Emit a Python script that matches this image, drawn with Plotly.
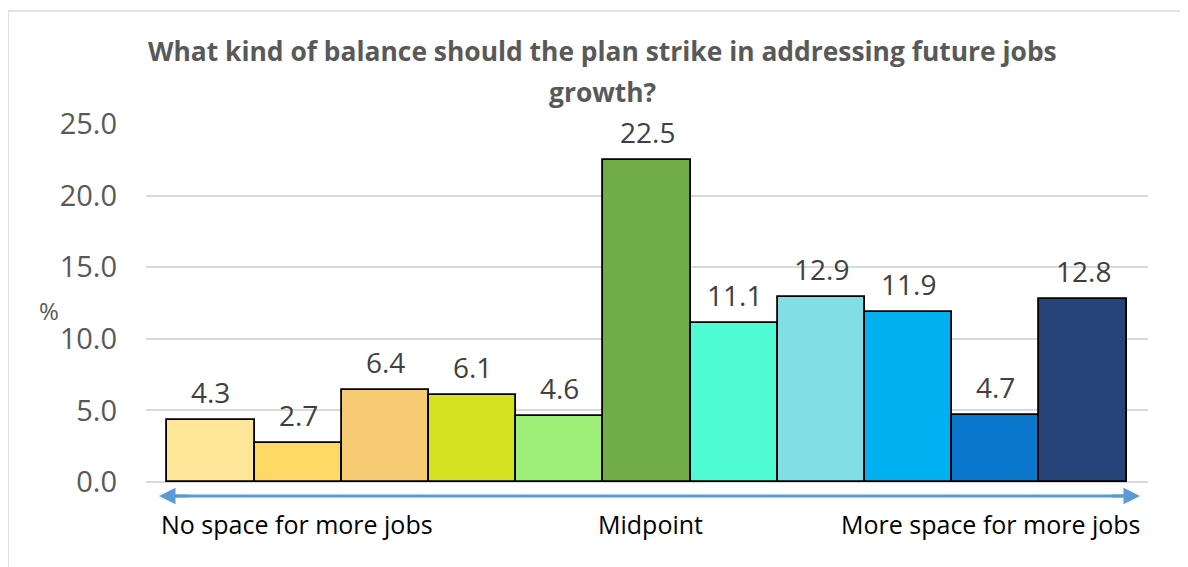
import plotly.graph_objects as go

# Scale points from "no space" (left) to "more space" (right)
points = list(range(11))
values = [4.3, 2.7, 6.4, 6.1, 4.6, 22.5, 11.1, 12.9, 11.9, 4.7, 12.8]
colors = ["#FFE699", "#FFD966", "#F6CB73", "#D4E21F", "#9DEF77", "#70AD47",
          "#4FFBD3", "#80DEE4", "#00B0F0", "#0A77CC", "#264478"]
yticks = [0, 5, 10, 15, 20, 25]
title_lines = ["What kind of balance should the plan strike in addressing future jobs", "growth?"]

fig = go.Figure(go.Bar(
    x=points, y=values,
    marker=dict(color=colors, line=dict(color="black", width=1.8)),
    cliponaxis=False, showlegend=False,
))

# value labels above the bars
for x, v in zip(points, values):
    fig.add_annotation(x=x, y=v, xref="x", yref="y", text=f"{v:.1f}", showarrow=False,
                       yanchor="middle", yshift=28,
                       font=dict(family="Open Sans", size=28, color="#404040"))

fig.update_layout(
    width=1188, height=567,
    margin=dict(l=138, r=48, t=116, b=93),
    paper_bgcolor="white", plot_bgcolor="white",
    bargap=0,
    font=dict(family="Open Sans"),
)

# title, two lines
for txt, ty in zip(title_lines, [1.204, 1.089]):
    fig.add_annotation(text=f"<b>{txt}</b>", xref="paper", yref="paper", x=0.456, y=ty,
                       xanchor="center", yanchor="middle", showarrow=False,
                       font=dict(family="Open Sans", size=26.4, color="#595959"))

fig.update_xaxes(range=[-0.745, 10.745], showticklabels=False, showgrid=False,
                 zeroline=False, showline=False)
fig.update_yaxes(range=[0, 25], tickvals=yticks, ticktext=[f"{t:.1f}" for t in yticks],
                 showgrid=True, gridcolor="#D9D9D9", gridwidth=1.5,
                 zeroline=True, zerolinecolor="#D9D9D9", zerolinewidth=1.5,
                 tickfont=dict(family="Open Sans", size=29, color="#595959"),
                 ticklabelstandoff=28)

# y-axis title
fig.add_annotation(text="%", xref="paper", yref="paper", x=-0.109, y=0.48,
                   showarrow=False, font=dict(family="Open Sans", size=24, color="#595959"))

# double-headed arrow under the bars
fig.add_shape(type="line", xref="paper", yref="paper", x0=0.02, x1=0.985,
              y0=-0.039, y1=-0.039, line=dict(color="#5B9BD5", width=3))
for tip, off in [(0.013, 30), (0.992, -30)]:
    fig.add_annotation(x=tip, y=-0.039, xref="paper", yref="paper", text="",
                       showarrow=True, ax=off, ay=0, arrowhead=2, arrowsize=1.1,
                       arrowwidth=3, arrowcolor="#5B9BD5", standoff=0)

# scale end labels
label_font = dict(family="Open Sans", size=25, color="black")
fig.add_annotation(text="No space for more jobs", xref="paper", yref="paper",
                   x=0.013, y=-0.117, xanchor="left", yanchor="middle", showarrow=False,
                   font=label_font)
fig.add_annotation(text="Midpoint", xref="paper", yref="paper",
                   x=0.503, y=-0.117, xanchor="center", yanchor="middle", showarrow=False,
                   font=label_font)
fig.add_annotation(text="More space for more jobs", xref="paper", yref="paper",
                   x=0.995, y=-0.117, xanchor="right", yanchor="middle", showarrow=False,
                   font=label_font)

# outer chart border
fig.add_shape(type="rect", xref="paper", yref="paper", x0=-0.1377, x1=1.2,
              y0=-0.5, y1=1.3156, line=dict(color="#D9D9D9", width=1.5), layer="below")

fig.write_html("out.html")
